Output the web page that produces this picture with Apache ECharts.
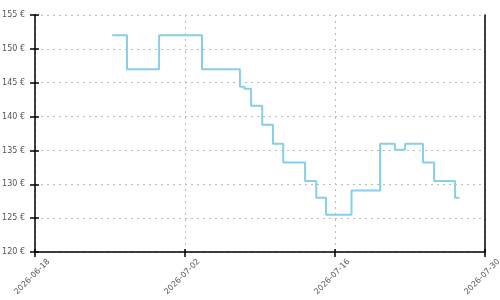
<!DOCTYPE html>
<html><head><meta charset="utf-8">
<script src="https://cdn.jsdelivr.net/npm/echarts@6/dist/echarts.min.js"></script>
<style>html,body{margin:0;padding:0;background:#fff}#c{width:500px;height:300px}</style>
</head><body><div id="c"></div>
<script>
var times = ['2026-06-25 05:00','2026-06-26 14:00','2026-06-29 14:00','2026-07-03 14:00','2026-07-07 03:00','2026-07-07 13:00','2026-07-08 04:00','2026-07-09 05:00','2026-07-10 05:00','2026-07-11 04:00','2026-07-13 05:00','2026-07-14 06:00','2026-07-15 04:00','2026-07-17 13:00','2026-07-20 05:00','2026-07-21 14:00','2026-07-22 13:00','2026-07-24 05:00','2026-07-25 06:00','2026-07-27 05:00','2026-07-27 15:00'];
var prices = [152,147,152,147,144.4,144.1,141.6,138.8,136.0,133.2,130.5,128.0,125.5,129.1,136.0,135.1,136.0,133.2,130.5,128.0,128.0];
var xMin = '2026-06-18', xMax = '2026-07-30';
var yMin = 120, yMax = 155, yStep = 5;

function ts(s){ var p = s.split(/[- :]/); return Date.UTC(+p[0], +p[1]-1, +p[2], +(p[3]||0), +(p[4]||0)); }
var DAY = 86400000;
var data = times.map(function(t,i){ return [ts(t), prices[i]]; });
function fmtDate(v){ var d = new Date(v); var m = d.getUTCMonth()+1, dd = d.getUTCDate(); return d.getUTCFullYear()+'-'+(m<10?'0':'')+m+'-'+(dd<10?'0':'')+dd; }
var font = 'DejaVu Sans, sans-serif';
var chart = echarts.init(document.getElementById('c'), null, {renderer:'canvas'});
var grid = {left:35, right:15, top:15, bottom:48, containLabel:false, outerBoundsMode:'none'};
var xBase = {type:'value', min:ts(xMin), max:ts(xMax), interval:14*DAY};
var yBase = {type:'value', min:yMin, max:yMax, interval:yStep};
chart.setOption({
  animation:false,
  grid:grid,
  xAxis:[
    Object.assign({}, xBase, {
      position:'bottom',
      axisLine:{show:true, lineStyle:{color:'#000', width:1.5}},
      axisTick:{show:true, length:5, lineStyle:{color:'#000', width:1.5}},
      axisLabel:{rotate:45, align:'center', verticalAlign:'middle', margin:22, padding:[0,8,0,0], fontSize:8, color:'#555', fontFamily:font, formatter:fmtDate},
      splitLine:{show:true, lineStyle:{color:'#bbb', type:[2,4], width:1}}
    }),
    Object.assign({}, xBase, {
      position:'bottom',
      axisLine:{show:false},
      axisTick:{show:true, inside:true, length:3, lineStyle:{color:'#000', width:1.5}},
      axisLabel:{show:false}, splitLine:{show:false}
    })
  ],
  yAxis:[
    Object.assign({}, yBase, {
      position:'left',
      axisLine:{show:true, lineStyle:{color:'#000', width:1.5}},
      axisTick:{show:true, length:5, lineStyle:{color:'#000', width:1.5}},
      axisLabel:{margin:10, fontSize:8, color:'#555', fontFamily:font, formatter:'{value} €'},
      splitLine:{show:true, lineStyle:{color:'#bbb', type:[2,4], width:1}}
    }),
    Object.assign({}, yBase, {
      position:'left',
      axisLine:{show:false},
      axisTick:{show:true, inside:true, length:4, lineStyle:{color:'#000', width:1.5}},
      axisLabel:{show:false}, splitLine:{show:false}
    }),
    Object.assign({}, yBase, {
      position:'right',
      axisLine:{show:true, lineStyle:{color:'#000', width:1.5}},
      axisTick:{show:false}, axisLabel:{show:false}, splitLine:{show:false}
    })
  ],
  series:[{
    type:'line', step:'end', data:data, showSymbol:false, symbol:'none',
    lineStyle:{color:'#87CEEB', width:2}, itemStyle:{color:'#87CEEB'}
  }]
});
</script></body></html>
